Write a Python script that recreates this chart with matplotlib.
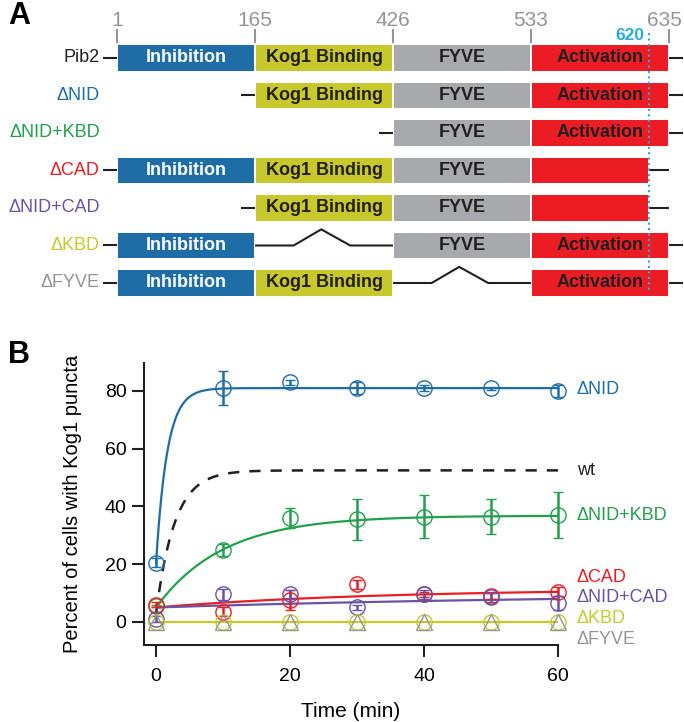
import matplotlib.pyplot as plt
import numpy as np
from matplotlib.patches import Rectangle

plt.rcParams['font.family'] = ['Liberation Sans', 'DejaVu Sans']

# ---- panel A: domain map of Pib2 and its deletion constructs ----
domain_names = ["Inhibition", "Kog1 Binding", "FYVE", "Activation"]
domain_edges = [1, 165, 426, 533, 635]
cad_start = 620
constructs = ["Pib2", "ΔNID", "ΔNID+KBD", "ΔCAD", "ΔNID+CAD", "ΔKBD", "ΔFYVE"]
first_domain = [0, 1, 2, 0, 1, 0, 0]
deleted_domain = [None, None, None, None, None, 1, 2]
last_residue = [635, 635, 635, 620, 620, 635, 635]

# ---- panel B: percent of cells with Kog1 puncta over time ----
time_min = [0, 10, 20, 30, 40, 50, 60]
series = ["ΔNID", "ΔNID+KBD", "ΔCAD", "ΔNID+CAD", "ΔKBD", "ΔFYVE"]
nid_mean = [20.5, 81, 83, 81, 81, 81, 80]
nid_err = [1.5, 6, 0.8, 2, 1, 0.5, 2.2]
nid_kbd_mean = [5.5, 25, 36, 35.5, 36.5, 36.5, 37]
nid_kbd_err = [0.5, 2, 3.5, 7, 7.5, 6.2, 8]
cad_mean = [6, 3.5, 7.5, 13, 9.5, 9, 10.5]
cad_err = [1, 1.5, 3.5, 1.5, 1, 1, 1.5]
nid_cad_mean = [1, 9.5, 9.5, 5, 9.5, 8.5, 6.5]
nid_cad_err = [1, 2, 1.5, 1, 1.5, 1.5, 2.5]
kbd_mean = [0, 0, 0, 0, 0, 0, 0]
fyve_mean = [0, 0, 0, 0, 0, 0, 0]

# one-phase association fits: start, plateau, rate (1/min)
fit_names = ["wt", "ΔNID", "ΔNID+KBD", "ΔCAD", "ΔNID+CAD", "ΔKBD"]
fit_y0 = [3, 20.5, 5, 5, 5, 0]
fit_plateau = [52.5, 81, 36.8, 11.5, 10, 0]
fit_rate = [0.36, 0.6, 0.1, 0.03, 0.015, 0]

c_blue = "#1f6da6"
c_yellow = "#c6c82c"
c_gray = "#a7a9ac"
c_red = "#ec1c24"
c_green = "#21a04b"
c_purple = "#6a53a3"
c_cyan = "#27aae1"
c_dark = "#231f20"
c_label_gray = "#939598"

domain_colors = [c_blue, c_yellow, c_gray, c_red]
domain_text = ["white", c_dark, c_dark, c_dark]
construct_colors = [c_dark, c_blue, c_green, c_red, c_purple, c_yellow, c_label_gray]

fig = plt.figure(figsize=(6.84, 7.22), dpi=100)

# ---------------- panel A ----------------
ax_a = fig.add_axes([117 / 684, 1 - 301.75 / 722, 552 / 684, 262.5 / 722])
ax_a.set_xlim(0, 4)
ax_a.set_ylim(6.5, -0.5)
ax_a.axis("off")


def slot(residue):
    return float(np.interp(residue, domain_edges, np.arange(len(domain_edges))))


gap = 0.006
box_h = 0.68
line_kw = dict(color=c_dark, lw=1.5, solid_capstyle="butt", zorder=1, clip_on=False)

for row, name in enumerate(constructs):
    start = first_domain[row]
    end = slot(last_residue[row])
    ax_a.plot([start - 0.1, start], [row, row], **line_kw)
    for d in range(start, 4):
        if d == deleted_domain[row]:
            ax_a.plot([d, d + 0.28, d + 0.48, d + 0.69, d + 1],
                      [row, row, row - 0.43, row, row], **line_kw)
            continue
        x0 = d + gap
        x1 = min(d + 1, end) - gap
        ax_a.add_patch(Rectangle((x0, row - box_h / 2), x1 - x0, box_h,
                                 facecolor=domain_colors[d], edgecolor="none",
                                 zorder=2, clip_on=False))
        if d == 3 and end < 4:
            continue
        ax_a.text((x0 + x1) / 2, row, domain_names[d], ha="center", va="center",
                  fontsize=13, fontweight="bold", color=domain_text[d], zorder=3)
    if end < 4:
        ax_a.plot([end, 4], [row, row], **line_kw)
    else:
        ax_a.plot([4, 4.1], [row, row], **line_kw)
    ax_a.text(-0.125, row, name, ha="right", va="center", fontsize=13,
              color=construct_colors[row])

num_family = ["Liberation Sans Narrow", "Liberation Sans", "DejaVu Sans"]
for i, res in enumerate(domain_edges):
    ax_a.plot([i, i], [-0.75, -0.43], color=c_label_gray, lw=1.5, clip_on=False)
    ax_a.text(i - (0.03 if i == 4 else 0), -1.0, str(res), ha="center", va="center",
              fontsize=15, color=c_label_gray, family=num_family)

x620 = slot(cad_start)
ax_a.plot([x620, x620], [-0.67, 6.27], color=c_cyan, lw=1.5,
          linestyle=(0, (1, 1.6)), clip_on=False, zorder=4)
ax_a.text(x620 - 0.035, -0.6, str(cad_start), ha="right", va="center",
          fontsize=12.5, color=c_cyan, fontweight="bold")

fig.text(8 / 684, 1 - 16 / 722, "A", fontsize=22, fontweight="bold", va="center")
fig.text(8 / 684, 1 - 355 / 722, "B", fontsize=22, fontweight="bold", va="center")

# ---------------- panel B ----------------
ax_b = fig.add_axes([144 / 684, 1 - 645 / 722, 414 / 684, 282 / 722])
ax_b.set_xlim(-1.8, 60)
ax_b.set_ylim(-8, 89.7)
for side in ["top", "right"]:
    ax_b.spines[side].set_visible(False)
for side in ["left", "bottom"]:
    ax_b.spines[side].set_color(c_dark)
    ax_b.spines[side].set_linewidth(1.5)
ax_b.tick_params(direction="out", length=8.6, width=1.5, color=c_dark,
                 labelsize=14, pad=4)
ax_b.tick_params(axis="x", pad=8)
ax_b.set_xticks([0, 20, 40, 60])
ax_b.set_yticks([0, 20, 40, 60, 80])
ax_b.set_xlabel("Time (min)", fontsize=15, labelpad=12)
ax_b.set_ylabel("Percent of cells with Kog1 puncta", fontsize=14.5, labelpad=16)

fit_colors = [c_dark, c_blue, c_green, c_red, c_purple, c_yellow]
t_fit = np.linspace(0, 60, 300)
for name, y0, top, k, col in zip(fit_names, fit_y0, fit_plateau, fit_rate, fit_colors):
    curve = y0 + (top - y0) * (1 - np.exp(-k * t_fit))
    if name == "wt":
        ax_b.plot(t_fit, curve, color=col, lw=1.8, linestyle=(0, (4.5, 4)), zorder=2)
    else:
        ax_b.plot(t_fit, curve, color=col, lw=1.6, zorder=2)

means = [nid_mean, nid_kbd_mean, cad_mean, nid_cad_mean, kbd_mean, fyve_mean]
errs = [nid_err, nid_kbd_err, cad_err, nid_cad_err, None, None]
markers = ["o", "o", "o", "o", "o", "^"]
series_colors = [c_blue, c_green, c_red, c_purple, c_yellow, c_label_gray]
for mean, err, mk, col in zip(means, errs, markers, series_colors):
    ax_b.errorbar(time_min, mean, yerr=err, fmt=mk, ms=11 if mk == "o" else 12,
                  mfc="none", mec=col, mew=1.0, ecolor=col, elinewidth=1.8,
                  capsize=3.5, capthick=1.8, clip_on=False, zorder=3)

label_names = ["ΔNID", "wt", "ΔNID+KBD", "ΔCAD", "ΔNID+CAD", "ΔKBD", "ΔFYVE"]
label_y = [80.5, 52.5, 37, 15.3, 8.3, 1.2, -6]
label_colors = [c_blue, c_dark, c_green, c_red, c_purple, c_yellow, c_label_gray]
for name, y, col in zip(label_names, label_y, label_colors):
    ax_b.text(62.8, y, name, fontsize=13, color=col, va="center", ha="left",
              clip_on=False)

fig.savefig("out.png", dpi=100)
